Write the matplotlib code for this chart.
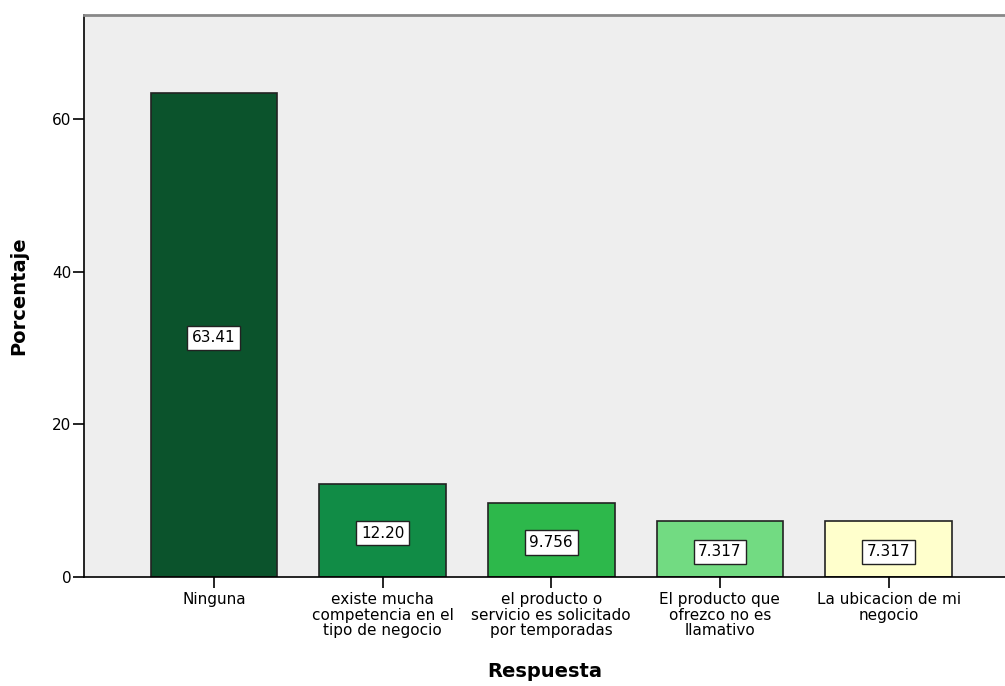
import matplotlib
matplotlib.use("Agg")
from matplotlib import pyplot as plt

# data
categories = ["Ninguna",
              "existe mucha\ncompetencia en el\ntipo de negocio",
              "el producto o\nservicio es solicitado\npor temporadas",
              "El producto que\nofrezco no es\nllamativo",
              "La ubicacion de mi\nnegocio"]
porcentaje = [63.41, 12.20, 9.756, 7.317, 7.317]
etiquetas = ["63.41", "12.20", "9.756", "7.317", "7.317"]
colores = ["#0b532c", "#118c46", "#2db84b", "#72db82", "#ffffcc"]

plt.rcParams['font.family'] = ['DejaVu Sans']

fig = plt.figure(figsize=(10.05, 6.86), dpi=100)
ax = fig.add_axes([84/1005, 109/686, 1 - 84/1005, (577-15)/686])
ax.set_facecolor("#eeeeee")

x = list(range(len(categories)))
ax.bar(x, porcentaje, width=0.75, color=colores, edgecolor="#222222", linewidth=1.2, zorder=2)

for xi, v, t in zip(x, porcentaje, etiquetas):
    ax.text(xi, v / 2 - 0.35, t, ha="center", va="center", fontsize=11,
            bbox=dict(boxstyle="square,pad=0.3", fc="white", ec="#222222", lw=1), zorder=3)

ax.set_xlim(-0.77, 4.69)
ax.set_ylim(0, 73.7)
ax.set_yticks([0, 20, 40, 60])
ax.set_xticks(x)
ax.set_xticklabels(categories, fontsize=11, linespacing=1.05)
ax.tick_params(axis="y", labelsize=11, length=8, width=1.2, pad=1)
ax.tick_params(axis="x", length=8, width=1.2, pad=3)

ax.spines["right"].set_visible(False)
ax.spines["top"].set_color("#888888")
ax.spines["top"].set_linewidth(2)
ax.spines["left"].set_linewidth(1.2)
ax.spines["bottom"].set_linewidth(1.2)

ax.set_ylabel("Porcentaje", fontsize=14, fontweight="bold", labelpad=17)
ax.set_xlabel("Respuesta", fontsize=14, fontweight="bold", labelpad=17)

fig.savefig("out.png", dpi=100)
